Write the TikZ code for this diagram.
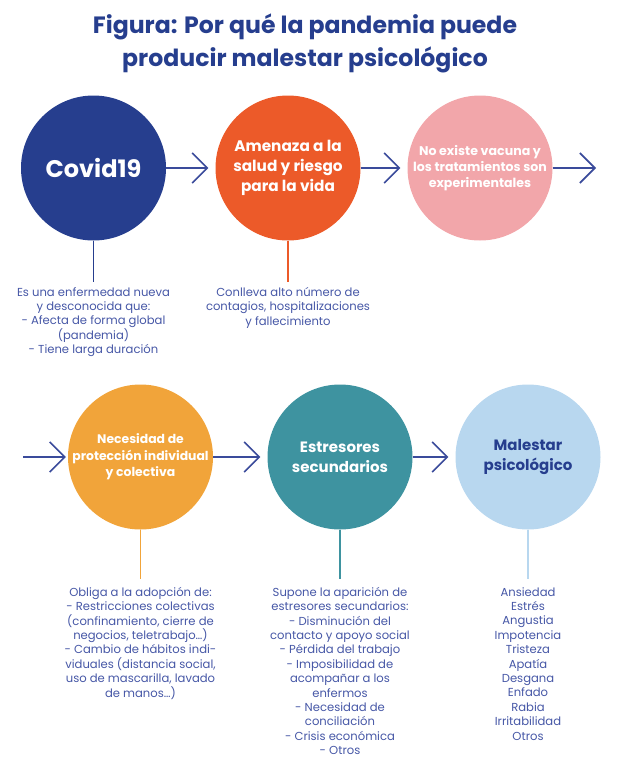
\documentclass[tikz,border=0pt]{standalone}
\usepackage{fontspec}
\setmainfont{Poppins}
\usetikzlibrary{arrows.meta}
\definecolor{navy}{HTML}{263E8E}
\definecolor{tomato}{HTML}{EC5A29}
\definecolor{rose}{HTML}{F2A6AA}
\definecolor{amber}{HTML}{F1A43A}
\definecolor{petrol}{HTML}{3E93A0}
\definecolor{sky}{HTML}{B8D7EF}
\definecolor{arrowblue}{HTML}{3A4B9B}
\definecolor{textblue}{HTML}{4657A6}
\tikzstyle{bubble}=[circle,minimum size=145pt,inner sep=0pt,align=center,text=white]
\tikzstyle{flow} = [draw=arrowblue,line width=1.6pt,-{Straight Barb[length=15pt,width=30pt]}]
\tikzstyle{stem} = [draw,line width=1.6pt]
\tikzstyle{note} = [align=center,text=textblue,font=\fontsize{11.6}{14.4}\selectfont,anchor=north,inner sep=5pt]

\begin{document}
\begin{tikzpicture}[x=1pt,y=-1pt]
    \useasboundingbox (0,0) rectangle (644,766);
    % Title
    \node[text=navy,font=\bfseries\fontsize{23.6}{33}\selectfont,align=center] (title) at (305,43)
        {Figura: Por qué la pandemia puede\\producir malestar psicológico};

    % First row of circles
    \node[bubble,fill=navy,font=\bfseries\fontsize{24}{28}\selectfont] (covid) at (93.5,168) {Covid19};
    \node[bubble,fill=tomato,font=\bfseries\fontsize{15.3}{20}\selectfont] (amenaza) at (288,168)
        {Amenaza a la\\salud y riesgo\\para la vida};
    \node[bubble,fill=rose,font=\bfseries\fontsize{12.6}{16}\selectfont] (vacuna) at (480,168)
        {No existe vacuna y\\los tratamientos son\\experimentales};

    % Second row of circles
    \node[bubble,fill=amber,font=\bfseries\fontsize{12.4}{16.5}\selectfont] (proteccion) at (140.5,457)
        {Necesidad de\\protección individual\\y colectiva};
    \node[bubble,fill=petrol,font=\bfseries\fontsize{15}{20}\selectfont] (estresores) at (340,457)
        {Estresores\\secundarios};
    \node[bubble,fill=sky,text=navy,font=\bfseries\fontsize{15}{20}\selectfont] (malestar) at (528,457)
        {Malestar\\psicológico};

    % Arrows between the circles
    \coordinate (next) at (596,168);
    \coordinate (prev) at (23,457);
    \foreach \source/ \dest in {covid/amenaza, amenaza/vacuna, proteccion/estresores, estresores/malestar}
        \path[flow,shorten >=7pt] (\source) -- (\dest);
    \path[flow] (vacuna) -- (next);
    \path[flow,shorten >=2pt] (prev) -- (proteccion);

    % Notes under the circles
    \node[note] (covidnote) at (93.5,282) {Es una enfermedad nueva\\y desconocida que:\\- Afecta de  forma global\\(pandemia)\\- Tiene larga duración};
    \node[note] (amenazanote) at (288,282) {Conlleva alto número de\\contagios, hospitalizaciones\\y fallecimiento};
    \node[note,inner ysep=8pt] (proteccionnote) at (140.5,579) {Obliga a la adopción de:\\- Restricciones colectivas\\(confinamiento, cierre de\\negocios, teletrabajo…)\\- Cambio de hábitos indi-\\viduales (distancia social,\\uso de mascarilla, lavado\\de manos…)};
    \node[note,inner ysep=8pt] (estresoresnote) at (340,579) {Supone la aparición de\\estresores secundarios:\\- Disminución del\\contacto y apoyo social\\- Pérdida del trabajo\\- Imposibilidad de\\acompañar a los\\enfermos\\- Necesidad de\\conciliación\\- Crisis económica\\- Otros};
    \node[note,inner ysep=8pt] (malestarnote) at (528,579) {Ansiedad\\Estrés\\Angustia\\Impotencia\\Tristeza\\Apatía\\Desgana\\Enfado\\Rabia\\Irritabilidad\\Otros};

    % Stems from circles to notes
    \foreach \name/ \col in {covid/navy, amenaza/tomato, proteccion/amber, estresores/petrol, malestar/sky}
        \path[stem,draw=\col] (\name.south) -- (\name note.north);
\end{tikzpicture}
\end{document}
